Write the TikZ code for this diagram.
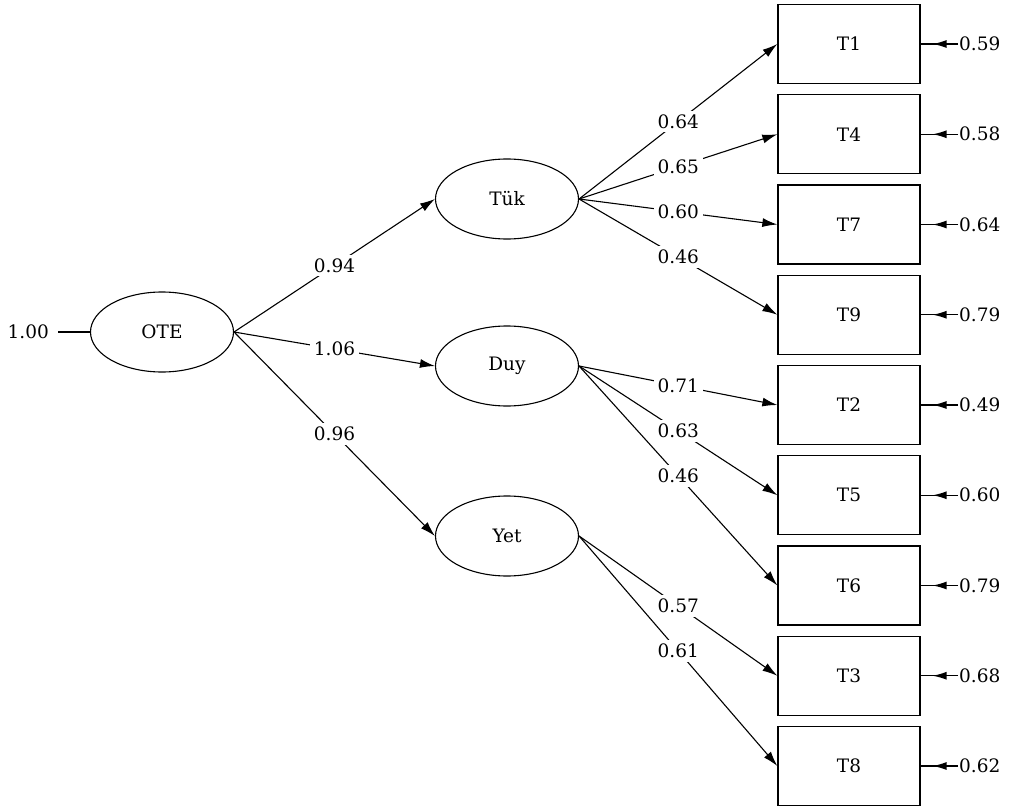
\documentclass[tikz,border=0pt]{standalone}
\usepackage{fontspec}
\setmainfont{DejaVu Serif}
\usetikzlibrary{arrows.meta,decorations.markings,shapes.geometric}
\begin{document}
\begin{tikzpicture}[x=1pt,y=-1pt,
 font=\fontsize{18.5}{21}\selectfont,
 lat/.style={ellipse,draw,line width=1.1pt,minimum width=143pt,minimum height=80pt,inner sep=0pt},
 obs/.style={rectangle,draw,line width=1.3pt,minimum width=142pt,minimum height=79pt,inner sep=0pt},
 pth/.style={line width=1.1pt,-{Latex[length=15pt,width=9pt]}},
 lab/.style={fill=white,inner sep=4pt,pos=0.5},
 err/.style={line width=1.3pt,postaction={decorate},decoration={markings,mark=at position 0.68 with {\arrow{Latex[length=14pt,width=8pt]}}}},
 elab/.style={anchor=west,inner sep=1pt},
]
\useasboundingbox (0,0) rectangle (1013,808);
\node[lat] (OTE) at (162,332) {OTE};
\node[lat] (Tuk) at (507,199) {Tük};
\node[lat] (Duy) at (507,366) {Duy};
\node[lat] (Yet) at (507,536) {Yet};
\coordinate (z) at (58,332);
\node[anchor=east,inner sep=0pt,xshift=-9pt] (zl) at (z) {1.00};
\draw[line width=1.1pt] (z) -- (OTE.west);
\foreach \n/\i in {T1/0,T4/1,T7/2,T9/3,T2/4,T5/5,T6/6,T3/7,T8/8}{
  \node[obs] (\n) at (849,{44+90.25*\i}) {\n};
  \coordinate (e\n) at (958,{44+90.25*\i});
}
\foreach \n/\v in {T1/0.59,T4/0.58,T7/0.64,T9/0.79,T2/0.49,T5/0.60,T6/0.79,T3/0.68,T8/0.62}{
  \draw[err] (e\n) -- (\n.east);
  \node[elab] at (e\n) {\v};
}
\draw[pth] (OTE.east) -- node[lab]{0.94} (Tuk.west);
\draw[pth] (OTE.east) -- node[lab]{1.06} (Duy.west);
\draw[pth] (OTE.east) -- node[lab]{0.96} (Yet.west);
\draw[pth] (Tuk.east) -- node[lab]{0.64} (T1.west);
\draw[pth] (Tuk.east) -- node[lab]{0.65} (T4.west);
\draw[pth] (Tuk.east) -- node[lab]{0.60} (T7.west);
\draw[pth] (Tuk.east) -- node[lab]{0.46} (T9.west);
\draw[pth] (Duy.east) -- node[lab]{0.71} (T2.west);
\draw[pth] (Duy.east) -- node[lab]{0.63} (T5.west);
\draw[pth] (Duy.east) -- node[lab]{0.46} (T6.west);
\draw[pth] (Yet.east) -- node[lab]{0.57} (T3.west);
\draw[pth] (Yet.east) -- node[lab]{0.61} (T8.west);
\end{tikzpicture}
\end{document}
